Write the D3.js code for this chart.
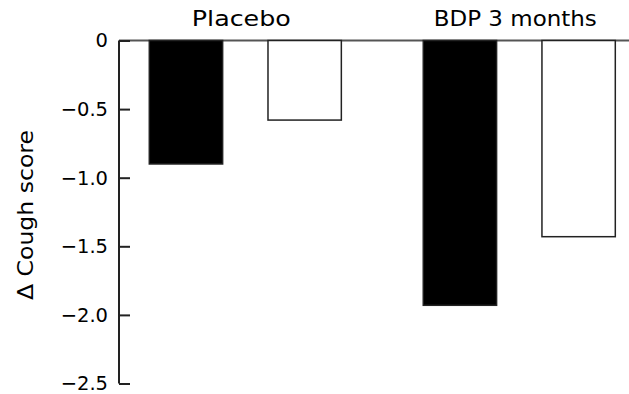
<!DOCTYPE html>
<html><head><meta charset="utf-8">
<script src="https://cdn.jsdelivr.net/npm/d3@7"></script>
<style>body{margin:0;background:#fff}svg{display:block}text{font-family:"DejaVu Sans",sans-serif;fill:#000}</style>
</head><body><svg id="c" width="629" height="394"></svg>
<script>
const groups = ["Placebo", "BDP 3 months"];
const series = ["Black", "White"];
const blackValues = [-0.9, -1.93];
const whiteValues = [-0.58, -1.43];
const yTicks = [0, -0.5, -1.0, -1.5, -2.0, -2.5];
const yTickLabels = ["0", "\u22120.5", "\u22121.0", "\u22121.5", "\u22122.0", "\u22122.5"];
const yLabel = "\u0394 Cough score";

const svg = d3.select("#c");
const y = d3.scaleLinear().domain([0, -2.5]).range([40.5, 383.5]);
const x0 = d3.scaleBand().domain(groups).range([149.3, 615.3]).paddingInner(0.299).paddingOuter(0);
const x1 = d3.scaleBand().domain(series).range([0, x0.bandwidth()]).paddingInner(0.382).paddingOuter(0);

const axisX = 119;
// zero line
svg.append("line").attr("x1", axisX).attr("x2", 629).attr("y1", y(0)).attr("y2", y(0))
  .attr("stroke", "#555").attr("stroke-width", 2);

const data = groups.map((g, i) => ({g, vals: [{s: "Black", v: blackValues[i]}, {s: "White", v: whiteValues[i]}]}));
const gg = svg.selectAll("g.grp").data(data).join("g").attr("class", "grp").attr("transform", d => `translate(${x0(d.g)},0)`);
gg.selectAll("rect").data(d => d.vals).join("rect")
  .attr("x", d => x1(d.s)).attr("width", x1.bandwidth())
  .attr("y", y(0)).attr("height", d => y(d.v) - y(0))
  .attr("fill", d => d.s === "Black" ? "#000" : "#fff")
  .attr("stroke", "#222").attr("stroke-width", 1.5);

const groupWidths = {"Placebo": 99, "BDP 3 months": 163};
gg.append("text").attr("x", x0.bandwidth() / 2 - 4).attr("y", 26).attr("text-anchor", "middle")
  .attr("font-size", 21).attr("textLength", d => groupWidths[d.g]).attr("lengthAdjust", "spacingAndGlyphs")
  .text(d => d.g);

const axis = d3.axisLeft(y).tickValues(yTicks).tickSize(-11).tickPadding(11)
  .tickFormat((d, i) => yTickLabels[i]);
const ag = svg.append("g").attr("transform", `translate(${axisX},0)`).call(axis);
ag.attr("font-family", null).attr("font-size", null);
ag.select(".domain").attr("stroke", "#222").attr("stroke-width", 2).attr("d", `M0,${y(0)}V${y(-2.5)}`);
ag.selectAll(".tick line").attr("stroke", "#222").attr("stroke-width", 2);
ag.selectAll(".tick text").attr("font-size", 19.5).attr("fill", "#000").attr("dy", "0.33em");

svg.append("text").attr("transform", "translate(33,215) rotate(-90)").attr("text-anchor", "middle")
  .attr("font-size", 21).attr("textLength", 170).attr("lengthAdjust", "spacingAndGlyphs").text(yLabel);
</script></body></html>
